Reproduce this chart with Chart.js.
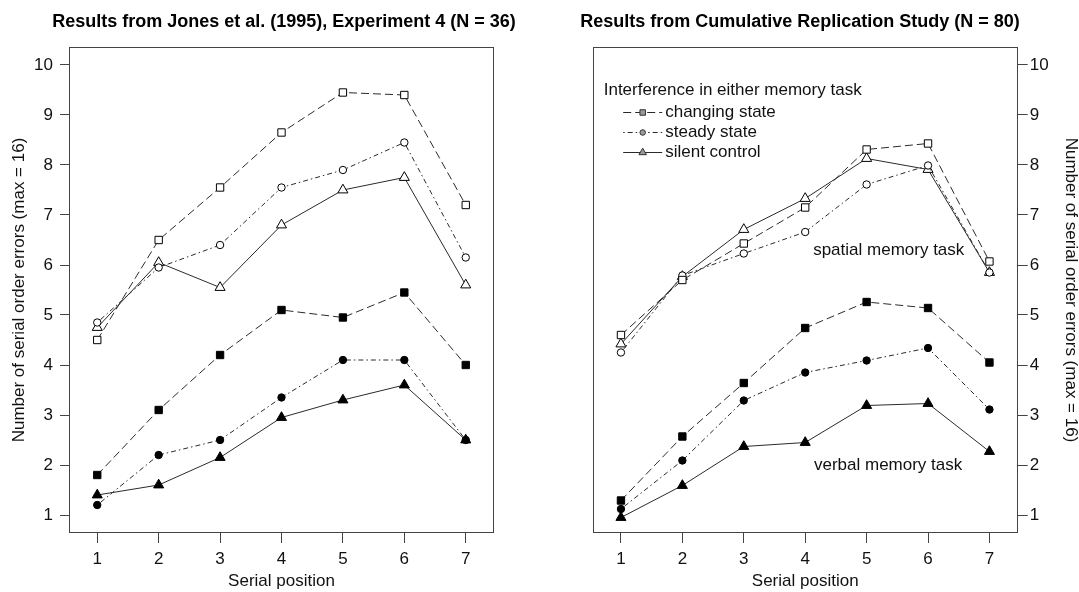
<!DOCTYPE html>
<html><head><meta charset="utf-8">
<script src="https://cdn.jsdelivr.net/npm/chart.js@4.4.0/dist/chart.umd.min.js"></script>
<style>
html,body{margin:0;padding:0;background:#fff;}
#wrap{position:relative;width:1079px;height:592px;overflow:hidden;background:#fff;}
canvas{position:absolute;top:0;}
#c1{left:0}
#c2{left:521px}
</style></head><body>
<div id="wrap"><canvas id="c1" width="568" height="592"></canvas><canvas id="c2" width="558" height="592"></canvas></div>
<script>
// ---------- data ----------
const serialPositions = [1, 2, 3, 4, 5, 6, 7];
const yTickValues = [1, 2, 3, 4, 5, 6, 7, 8, 9, 10];
const conditionLabels = ['changing state', 'steady state', 'silent control'];
const legendTitle = 'Interference in either memory task';
const leftTitle = 'Results from Jones et al. (1995), Experiment 4 (N = 36)';
const rightTitle = 'Results from Cumulative Replication Study (N = 80)';
const xAxisTitle = 'Serial position';
const yAxisTitle = 'Number of serial order errors (max = 16)';
const taskLabels = ['spatial memory task', 'verbal memory task'];

// Jones et al. (1995), Experiment 4
const jonesSpatialChanging = [4.5, 6.5, 7.55, 8.65, 9.45, 9.4, 7.2];
const jonesSpatialSteady   = [4.85, 5.95, 6.4, 7.55, 7.9, 8.45, 6.15];
const jonesSpatialSilent   = [4.75, 6.05, 5.55, 6.8, 7.5, 7.75, 5.6];
const jonesVerbalChanging  = [1.8, 3.1, 4.2, 5.1, 4.95, 5.45, 4.0];
const jonesVerbalSteady    = [1.2, 2.2, 2.5, 3.35, 4.1, 4.1, 2.5];
const jonesVerbalSilent    = [1.4, 1.6, 2.15, 2.95, 3.3, 3.6, 2.5];

// Cumulative Replication Study
const replSpatialChanging = [4.6, 5.7, 6.43, 7.15, 8.31, 8.43, 6.07];
const replSpatialSteady   = [4.25, 5.79, 6.23, 6.66, 7.61, 7.99, 5.85];
const replSpatialSilent   = [4.42, 5.77, 6.71, 7.33, 8.13, 7.91, 5.85];
const replVerbalChanging  = [1.29, 2.57, 3.64, 4.74, 5.26, 5.14, 4.05];
const replVerbalSteady    = [1.12, 2.09, 3.29, 3.85, 4.09, 4.34, 3.11];
const replVerbalSilent    = [0.95, 1.59, 2.37, 2.45, 3.19, 3.23, 2.27];

// ---------- styles ----------
const FONT = "'Liberation Sans', Arial, Helvetica, sans-serif";
const FS = 17;
const INK = '#111';
const AXIS = '#444';
const LINE = '#2a2a2a';
const condStyle = [
  { pointStyle: 'rect', radius: 5.2, dash: [8, 4] },
  { pointStyle: 'circle', radius: 3.7, dash: [1.5, 3, 5, 3] },
  { pointStyle: 'triangle', radius: 5.8, dash: [] }
];

function makeDataset(values, cond, filled, task) {
  const s = condStyle[cond];
  return {
    label: conditionLabels[cond] + ' (' + task + ')',
    data: values.map((v, i) => ({ x: serialPositions[i], y: v })),
    xAxisID: 'x',
    yAxisID: 'y',
    borderColor: LINE,
    borderWidth: 1,
    borderDash: s.dash,
    tension: 0,
    fill: false,
    pointStyle: s.pointStyle,
    pointRadius: s.radius,
    pointHoverRadius: s.radius,
    pointBorderWidth: 1,
    pointBorderColor: '#000',
    pointBackgroundColor: filled ? '#000' : '#fff'
  };
}

const framePlugin = {
  id: 'frame',
  afterDraw(chart) {
    const { ctx, chartArea: a } = chart;
    ctx.save();
    ctx.strokeStyle = AXIS;
    ctx.lineWidth = 1;
    const l = Math.round(a.left) + 0.5, t = Math.round(a.top) + 0.5;
    const r = Math.round(a.right) - 0.5, b = Math.round(a.bottom) - 0.5;
    ctx.strokeRect(l, t, r - l, b - t);
    ctx.restore();
  }
};

const notesPlugin = {
  id: 'notes',
  afterDatasetsDraw(chart, args, opts) {
    if (!opts || !opts.items) return;
    const { ctx, scales } = chart;
    ctx.save();
    ctx.font = FS + 'px ' + FONT;
    ctx.fillStyle = INK;
    ctx.textAlign = 'center';
    ctx.textBaseline = 'middle';
    opts.items.forEach(it => {
      ctx.fillText(it.text, scales.x.getPixelForValue(it.x), scales.y.getPixelForValue(it.y));
    });
    ctx.restore();
  }
};

const keyPlugin = {
  id: 'keyLegend',
  afterDatasetsDraw(chart, args, opts) {
    if (!opts || !opts.display) return;
    const { ctx, chartArea: a } = chart;
    ctx.save();
    ctx.font = FS + 'px ' + FONT;
    ctx.fillStyle = INK;
    ctx.textAlign = 'left';
    ctx.textBaseline = 'middle';
    const x0 = a.left + opts.offsetX, y0 = a.top + opts.offsetY;
    ctx.fillText(opts.title, x0, y0);
    conditionLabels.forEach((lab, i) => {
      const y = Math.round(y0 + opts.firstRow + i * opts.rowGap) + 0.5;
      const s = condStyle[i];
      const lx1 = x0 + opts.lineStart, lx2 = x0 + opts.lineEnd;
      ctx.save();
      ctx.strokeStyle = LINE;
      ctx.lineWidth = 1;
      ctx.setLineDash(s.dash);
      ctx.beginPath(); ctx.moveTo(lx1, y); ctx.lineTo(lx2, y); ctx.stroke();
      ctx.setLineDash([]);
      ctx.fillStyle = '#9a9a9a';
      ctx.strokeStyle = '#333';
      Chart.helpers.drawPoint(ctx, { pointStyle: s.pointStyle, radius: s.radius * 0.75, rotation: 0, borderWidth: 1 }, (lx1 + lx2) / 2, y);
      ctx.restore();
      ctx.fillStyle = INK;
      ctx.fillText(lab, x0 + opts.textStart, y);
    });
    ctx.restore();
  }
};

// invisible spacer axis used only to reserve room so the title centres like the original
function spacerAxis(position, width) {
  return {
    type: 'linear', position, display: true,
    grid: { display: false }, border: { display: false },
    ticks: { display: false }, title: { display: false },
    afterFit: s => { s.width = width; }
  };
}

function baseOptions(side, title, extra) {
  const isLeft = side === 'left';
  return {
    responsive: false,
    animation: false,
    devicePixelRatio: 1,
    layout: { padding: 0 },
    plugins: {
      legend: { display: false },
      tooltip: { enabled: false },
      title: {
        display: true, text: title, fullSize: true, color: '#000',
        font: { family: FONT, size: 18, weight: 'bold', lineHeight: 1.2 },
        padding: { top: 11, bottom: 14.4 }
      },
      notes: extra.notes,
      keyLegend: extra.key
    },
    scales: {
      x: {
        type: 'linear', position: 'bottom', min: 0.54, max: 7.46,
        afterBuildTicks: s => { s.ticks = serialPositions.map(v => ({ value: v })); },
        afterFit: s => { s.height = 59; },
        grid: { drawOnChartArea: false, drawTicks: true, tickLength: 10, color: AXIS, lineWidth: 1 },
        border: { display: false },
        ticks: { color: INK, font: { family: FONT, size: FS }, padding: 6, maxRotation: 0, autoSkip: false },
        title: { display: true, text: xAxisTitle, color: INK, font: { family: FONT, size: FS, lineHeight: 1.2 }, padding: { top: 0, bottom: 0 } }
      },
      y: {
        type: 'linear', position: side, min: 0.64, max: 10.36,
        afterBuildTicks: s => { s.ticks = yTickValues.map(v => ({ value: v })); },
        afterFit: s => { s.width = isLeft ? 69 : 61.3; },
        grid: { drawOnChartArea: false, drawTicks: true, tickLength: isLeft ? 9 : 10, color: AXIS, lineWidth: 1 },
        border: { display: false },
        ticks: { color: INK, font: { family: FONT, size: FS }, padding: isLeft ? 7 : 2, autoSkip: false },
        title: { display: true, text: yAxisTitle, color: INK, font: { family: FONT, size: FS, lineHeight: 1 }, padding: isLeft ? { top: 11, bottom: 0 } : { top: 0, bottom: 0 } }
      },
      spacer: isLeft ? spacerAxis('right', 74) : spacerAxis('left', 71.7)
    }
  };
}

new Chart(document.getElementById('c1'), {
  type: 'line',
  data: {
    datasets: [
      makeDataset(jonesSpatialChanging, 0, false, 'spatial'),
      makeDataset(jonesSpatialSteady, 1, false, 'spatial'),
      makeDataset(jonesSpatialSilent, 2, false, 'spatial'),
      makeDataset(jonesVerbalChanging, 0, true, 'verbal'),
      makeDataset(jonesVerbalSteady, 1, true, 'verbal'),
      makeDataset(jonesVerbalSilent, 2, true, 'verbal')
    ]
  },
  options: baseOptions('left', leftTitle, { notes: {}, key: { display: false } }),
  plugins: [framePlugin, notesPlugin, keyPlugin]
});

new Chart(document.getElementById('c2'), {
  type: 'line',
  data: {
    datasets: [
      makeDataset(replSpatialChanging, 0, false, 'spatial'),
      makeDataset(replSpatialSteady, 1, false, 'spatial'),
      makeDataset(replSpatialSilent, 2, false, 'spatial'),
      makeDataset(replVerbalChanging, 0, true, 'verbal'),
      makeDataset(replVerbalSteady, 1, true, 'verbal'),
      makeDataset(replVerbalSilent, 2, true, 'verbal')
    ]
  },
  options: baseOptions('right', rightTitle, {
    notes: { items: [
      { text: taskLabels[0], x: 5.36, y: 6.3 },
      { text: taskLabels[1], x: 5.35, y: 2.0 }
    ] },
    key: { display: true, title: legendTitle, offsetX: 11, offsetY: 43, firstRow: 22, rowGap: 19.8, lineStart: 19.5, lineEnd: 58.5, textStart: 61.5 }
  }),
  plugins: [framePlugin, notesPlugin, keyPlugin]
});
</script>
</body></html>
